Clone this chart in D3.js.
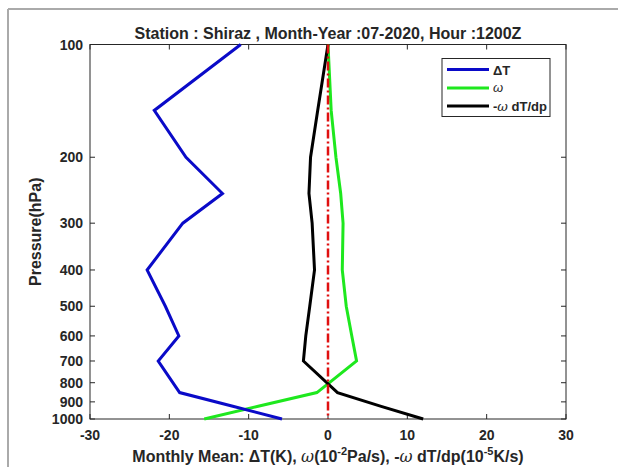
<!DOCTYPE html>
<html>
  <head>
    <meta charset="utf-8" />
    <title>Shiraz profile</title>
    <script src="https://d3js.org/d3.v7.min.js"></script>
    <style>
      body { margin: 0; background: #fff; }
      text { font-family: "Liberation Sans", Arial, sans-serif; fill: #262626; }
    </style>
  </head>
  <body>
    <script>
      // pressure levels (hPa) and the three profiles
      const levels = [100, 150, 200, 250, 300, 400, 500, 600, 700, 850, 925, 1000];
      const deltaT = [-11.0, -21.9, -17.9, -13.3, -18.3, -22.8, -20.5, -18.8, -21.4, -18.7, -12.0, -5.8];
      const omega = [0, 0.4, 1.0, 1.6, 1.9, 1.8, 2.3, 3.0, 3.6, -1.4, -8.8, -15.6];
      const advec = [0, -1.3, -2.2, -2.4, -2.0, -1.7, -2.3, -2.8, -3.1, 1.2, 6.7, 12.0];
      const xTicks = [-30, -20, -10, 0, 10, 20, 30];
      const yTicks = [100, 200, 300, 400, 500, 600, 700, 800, 900, 1000];

      const W = 618, H = 467;
      const L = 90, R = 566, T = 44.5, B = 419;

      const svg = d3.select("body").append("svg")
        .attr("width", W).attr("height", H);

      // frame edges from the screenshot
      svg.append("line").attr("x1", 8).attr("x2", W).attr("y1", 9).attr("y2", 9)
        .attr("stroke", "#aaa").attr("stroke-width", 2);
      svg.append("line").attr("x1", 8).attr("x2", 8).attr("y1", 9).attr("y2", H)
        .attr("stroke", "#aaa").attr("stroke-width", 2);

      const x = d3.scaleLinear().domain([-30, 30]).range([L, R]);
      const y = d3.scaleLog().domain([100, 1000]).range([T, B]);

      // axes with inward ticks
      const axisColor = "#262626";
      const tick = 5;
      svg.append("rect").attr("x", L).attr("y", T).attr("width", R - L).attr("height", B - T)
        .attr("fill", "none").attr("stroke", axisColor).attr("stroke-width", 1);

      xTicks.forEach(v => {
        svg.append("line").attr("x1", x(v)).attr("x2", x(v)).attr("y1", B).attr("y2", B - tick).attr("stroke", axisColor);
        svg.append("line").attr("x1", x(v)).attr("x2", x(v)).attr("y1", T).attr("y2", T + tick).attr("stroke", axisColor);
        svg.append("text").attr("x", x(v)).attr("y", 440).attr("text-anchor", "middle")
          .attr("font-size", 14).attr("font-weight", "bold").text(v);
      });
      yTicks.forEach(v => {
        svg.append("line").attr("x1", L).attr("x2", L + tick).attr("y1", y(v)).attr("y2", y(v)).attr("stroke", axisColor);
        svg.append("line").attr("x1", R).attr("x2", R - tick).attr("y1", y(v)).attr("y2", y(v)).attr("stroke", axisColor);
        svg.append("text").attr("x", 83).attr("y", y(v) + 5).attr("text-anchor", "end")
          .attr("font-size", 14).attr("font-weight", "bold").text(v);
      });

      const line = vals => d3.line().x((d, i) => x(vals[i])).y(d => y(d))(levels);
      const series = [
        { vals: omega, color: "#1ee81e" },
        { vals: advec, color: "#000000" },
        { vals: deltaT, color: "#0a0ac8" }
      ];
      series.forEach(s => {
        svg.append("path").attr("d", line(s.vals)).attr("fill", "none")
          .attr("stroke", s.color).attr("stroke-width", 3).attr("stroke-linejoin", "miter");
      });
      // zero line, red dash-dot, drawn over the profiles
      svg.append("line").attr("x1", x(0)).attr("x2", x(0)).attr("y1", y(100)).attr("y2", y(1000))
        .attr("stroke", "#e01010").attr("stroke-width", 2.5).attr("stroke-dasharray", "9,3,2,3");

      // legend
      const lg = svg.append("g");
      lg.append("rect").attr("x", 442).attr("y", 58.5).attr("width", 108).attr("height", 58)
        .attr("fill", "#fff").attr("stroke", axisColor).attr("stroke-width", 1);
      const rows = [
        { color: "#0a0ac8", y: 69.5 },
        { color: "#1ee81e", y: 88 },
        { color: "#000000", y: 106 }
      ];
      rows.forEach(r => {
        lg.append("line").attr("x1", 447).attr("x2", 489).attr("y1", r.y).attr("y2", r.y)
          .attr("stroke", r.color).attr("stroke-width", 3);
      });
      lg.append("text").attr("x", 493).attr("y", rows[0].y + 5).attr("font-size", 13)
        .attr("font-weight", "bold").text("ΔT");
      lg.append("text").attr("x", 493).attr("y", rows[1].y + 4).attr("font-size", 13)
        .attr("font-style", "italic").attr("font-family", "DejaVu Serif").text("ω");
      const t3 = lg.append("text").attr("x", 493).attr("y", rows[2].y + 5).attr("font-size", 13).attr("font-weight", "bold");
      t3.append("tspan").text("-");
      t3.append("tspan").attr("font-style", "italic").attr("font-weight", "normal").attr("font-family", "DejaVu Serif").text("ω");
      t3.append("tspan").text(" dT/dp");

      // title
      svg.append("text").attr("x", (L + R) / 2).attr("y", 39).attr("text-anchor", "middle")
        .attr("font-size", 16).attr("font-weight", "bold")
        .text("Station : Shiraz , Month-Year :07-2020, Hour :1200Z");

      // y label
      svg.append("text").attr("transform", `translate(41,${(T + B) / 2}) rotate(-90)`)
        .attr("text-anchor", "middle").attr("font-size", 16).attr("font-weight", "bold")
        .text("Pressure(hPa)");

      // x label with greek letters and superscripts
      const xl = svg.append("text").attr("x", (L + R) / 2).attr("y", 462).attr("text-anchor", "middle")
        .attr("font-size", 16).attr("font-weight", "bold");
      xl.append("tspan").text("Monthly Mean: ΔT(K), ");
      xl.append("tspan").attr("font-style", "italic").attr("font-weight", "normal").attr("font-family", "DejaVu Serif").text("ω");
      xl.append("tspan").text("(10");
      xl.append("tspan").attr("dy", -7).attr("font-size", 11).text("-2");
      xl.append("tspan").attr("dy", 7).text("Pa/s), -");
      xl.append("tspan").attr("font-style", "italic").attr("font-weight", "normal").attr("font-family", "DejaVu Serif").text("ω");
      xl.append("tspan").text(" dT/dp(10");
      xl.append("tspan").attr("dy", -7).attr("font-size", 11).text("-5");
      xl.append("tspan").attr("dy", 7).text("K/s)");
    </script>
  </body>
</html>
